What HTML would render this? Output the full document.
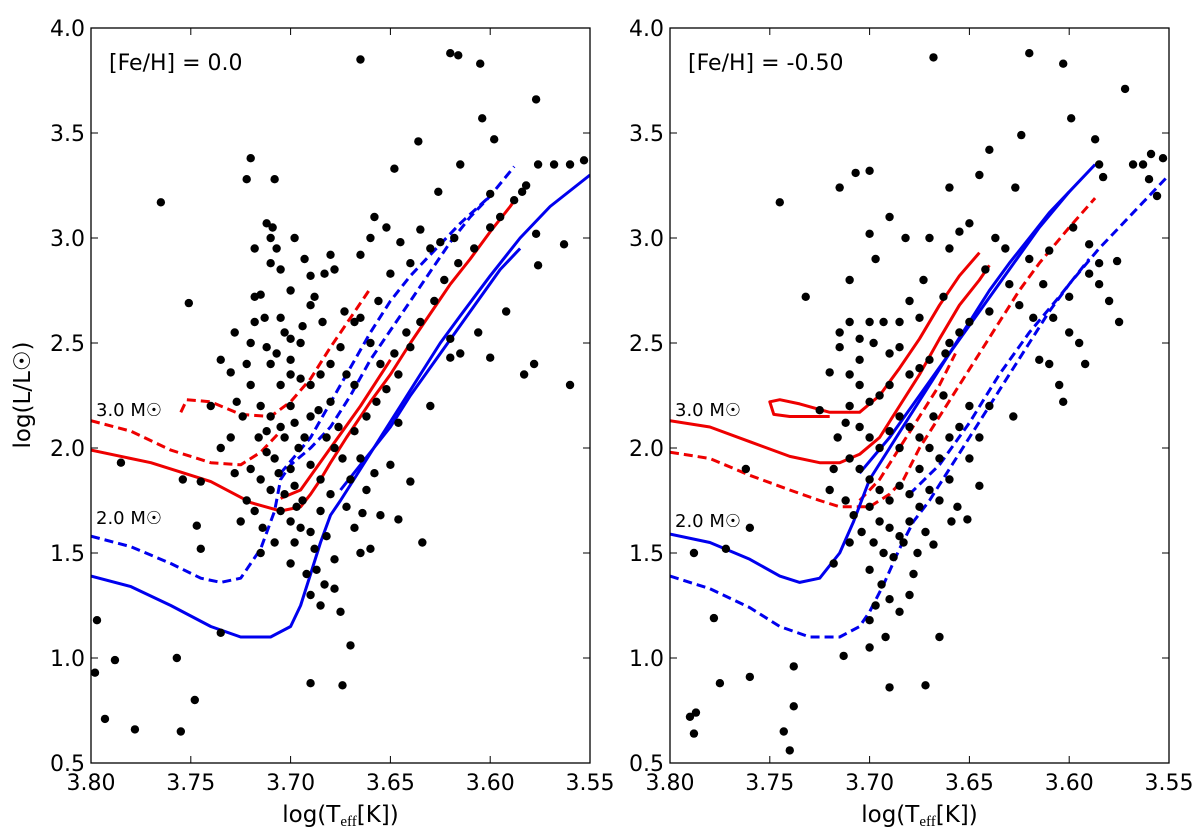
<!DOCTYPE html>
<html><head><meta charset="utf-8"><style>
body{margin:0;background:#fff}
svg text{font-family:"DejaVu Sans","Liberation Sans",sans-serif;fill:#000}
</style></head><body>
<svg id="chart" width="1200" height="835" xmlns="http://www.w3.org/2000/svg"></svg>
<script>
const xTicks=[3.80,3.75,3.70,3.65,3.60,3.55];
const yTicks=[0.5,1.0,1.5,2.0,2.5,3.0,3.5,4.0];
const starsLeftT=[3.665,3.620,3.616,3.605,3.577,3.604,3.636,3.598,3.568,3.560,3.553,3.576,3.615,3.648,3.626,3.600,3.584,3.577,3.563,3.576,3.592,3.606,3.615,3.578,3.583,3.600,3.620,3.560,3.765,3.751,3.722,3.720,3.708,3.712,3.709,3.707,3.710,3.718,3.718,3.730,3.740,3.745,3.754,3.785,3.797,3.788,3.798,3.793,3.778,3.755,3.748,3.757,3.735,3.745,3.747,3.690,3.674,3.675,3.670,3.665,3.660,3.655,3.664,3.646,3.640,3.634,3.646,3.630,3.640,3.620,3.655,3.648,3.660,3.665,3.668,3.673,3.656,3.650,3.640,3.630,3.625,3.618,3.635,3.660,3.678,3.683,3.690,3.688,3.694,3.695,3.700,3.703,3.705,3.713,3.718,3.712,3.720,3.700,3.710,3.705,3.695,3.690,3.685,3.680,3.675,3.672,3.668,3.720,3.715,3.710,3.705,3.700,3.698,3.693,3.690,3.686,3.680,3.676,3.716,3.712,3.708,3.720,3.715,3.710,3.703,3.698,3.694,3.690,3.685,3.680,3.705,3.700,3.695,3.690,3.685,3.698,3.688,3.682,3.700,3.692,3.687,3.678,3.683,3.690,3.685,3.678,3.722,3.725,3.728,3.730,3.724,3.735,3.696,3.703,3.712,3.682,3.678,3.674,3.670,3.662,3.658,3.650,3.668,3.662,3.657,3.652,3.646,3.642,3.635,3.628,3.623,3.616,3.608,3.600,3.595,3.588,3.582,3.690,3.684,3.700,3.693,3.705,3.715,3.728,3.735,3.710,3.698,3.680,3.658,3.665,3.652,3.645,3.700,3.706,3.718,3.714,3.697,3.708,3.715,3.672,3.668,3.665,3.700,3.707,3.722,3.727];
const starsLeftL=[3.85,3.88,3.87,3.83,3.66,3.57,3.46,3.47,3.35,3.35,3.37,3.35,3.35,3.33,3.22,3.21,3.22,3.02,2.97,2.87,2.65,2.55,2.45,2.40,2.35,2.43,2.43,2.30,3.17,2.69,3.28,3.38,3.28,3.07,3.05,2.95,2.88,2.95,2.72,2.36,2.20,1.84,1.85,1.93,1.18,0.99,0.93,0.71,0.66,0.65,0.80,1.00,1.12,1.52,1.63,0.88,0.87,1.22,1.06,1.50,1.52,1.68,1.69,1.66,1.84,1.55,2.12,2.20,2.48,2.52,2.40,2.45,2.50,2.62,2.60,2.65,2.70,2.83,2.88,2.95,2.98,3.00,3.04,3.00,2.85,2.83,2.82,2.72,2.58,2.50,2.52,2.55,2.62,2.62,2.60,2.48,2.50,2.42,2.40,2.30,2.33,2.30,2.35,2.40,2.48,2.35,2.30,2.30,2.20,2.15,2.10,2.20,2.12,2.05,2.15,2.18,2.22,2.10,2.05,1.98,1.95,1.90,1.85,1.80,1.78,1.82,1.75,1.92,1.85,1.78,1.70,1.65,1.62,1.60,1.70,1.55,1.52,1.58,1.45,1.40,1.42,1.47,1.35,1.30,1.25,1.33,1.75,1.65,1.88,2.05,2.15,2.00,2.00,2.05,2.08,2.05,2.00,1.95,1.85,1.80,1.88,1.92,2.08,2.15,2.22,2.28,2.35,2.55,2.60,2.70,2.80,2.88,2.95,3.05,3.10,3.18,3.25,2.68,2.60,2.75,2.90,2.85,2.73,2.55,2.42,3.00,3.00,2.92,3.10,2.92,3.05,2.98,1.90,1.88,1.70,1.62,1.72,1.55,1.50,1.72,1.62,1.95,2.35,2.45,2.40,2.22];
const starsRightT=[3.668,3.620,3.603,3.572,3.599,3.587,3.559,3.553,3.563,3.568,3.624,3.640,3.645,3.660,3.627,3.585,3.583,3.560,3.556,3.707,3.715,3.700,3.690,3.700,3.682,3.670,3.660,3.655,3.650,3.745,3.732,3.715,3.710,3.697,3.693,3.710,3.715,3.720,3.725,3.760,3.762,3.772,3.788,3.778,3.787,3.790,3.788,3.775,3.760,3.743,3.738,3.740,3.738,3.718,3.713,3.700,3.700,3.690,3.672,3.665,3.680,3.676,3.668,3.659,3.651,3.656,3.645,3.640,3.628,3.615,3.605,3.600,3.595,3.608,3.613,3.575,3.576,3.590,3.585,3.590,3.598,3.610,3.620,3.632,3.637,3.640,3.650,3.655,3.660,3.662,3.670,3.675,3.680,3.690,3.695,3.700,3.705,3.710,3.705,3.698,3.690,3.685,3.700,3.712,3.705,3.700,3.695,3.690,3.685,3.680,3.675,3.670,3.665,3.660,3.655,3.650,3.710,3.705,3.700,3.695,3.690,3.685,3.680,3.675,3.670,3.700,3.695,3.690,3.685,3.680,3.704,3.698,3.693,3.688,3.683,3.700,3.694,3.690,3.685,3.692,3.697,3.678,3.672,3.665,3.660,3.650,3.645,3.710,3.716,3.718,3.720,3.712,3.708,3.710,3.675,3.668,3.663,3.685,3.705,3.685,3.680,3.675,3.663,3.673,3.642,3.630,3.625,3.618,3.585,3.580,3.600,3.592,3.603,3.610];
const starsRightL=[3.86,3.88,3.83,3.71,3.57,3.47,3.40,3.38,3.35,3.35,3.49,3.42,3.30,3.24,3.24,3.35,3.29,3.28,3.20,3.31,3.24,3.32,3.10,3.02,3.00,3.00,2.95,3.03,3.07,3.17,2.72,2.55,2.80,2.90,2.60,2.60,2.48,2.36,2.18,1.62,1.90,1.52,1.50,1.19,0.74,0.72,0.64,0.88,0.91,0.65,0.77,0.56,0.96,1.45,1.01,1.18,1.05,0.86,0.87,1.10,1.30,1.50,1.54,1.65,1.66,1.72,1.82,2.20,2.15,2.42,2.30,2.55,2.50,2.62,2.78,2.60,2.89,2.83,2.88,2.97,3.05,2.94,2.90,2.95,3.00,2.65,2.60,2.55,2.50,2.45,2.42,2.38,2.35,2.30,2.25,2.22,2.30,2.35,2.42,2.50,2.45,2.48,2.60,2.12,2.10,2.05,2.00,2.08,2.15,2.10,2.05,2.00,1.95,2.05,2.10,2.20,1.95,1.90,1.85,1.80,1.75,1.82,1.78,1.72,1.80,1.72,1.65,1.62,1.58,1.65,1.60,1.55,1.50,1.48,1.55,1.42,1.35,1.28,1.22,1.10,1.25,1.40,1.60,1.75,1.85,1.95,2.05,2.20,2.05,1.90,1.80,1.75,1.68,1.55,1.90,2.15,2.25,2.00,2.52,2.60,2.70,2.62,2.72,2.80,2.85,2.78,2.68,2.62,2.78,2.70,2.72,2.40,2.22,2.40];
// tracks: [T...],[L...]
const lRedSolidT=[3.80,3.77,3.74,3.72,3.705,3.695,3.690,3.685,3.680,3.672,3.660,3.650,3.640,3.630,3.620,3.610,3.600,3.590,3.587];
const lRedSolidL=[1.99,1.93,1.84,1.74,1.70,1.72,1.78,1.85,1.93,2.05,2.22,2.35,2.50,2.64,2.78,2.90,3.03,3.15,3.19];
const lRedSolid2T=[3.705,3.695,3.680,3.665,3.650];
const lRedSolid2L=[1.76,1.80,2.00,2.20,2.42];
const lRedDashT=[3.80,3.78,3.76,3.74,3.725,3.715,3.705];
const lRedDashL=[2.13,2.08,1.99,1.93,1.92,1.98,2.08];
const lRedDash2T=[3.755,3.752,3.74,3.725,3.71,3.70,3.69,3.68,3.67,3.66];
const lRedDash2L=[2.17,2.23,2.22,2.16,2.15,2.22,2.33,2.48,2.62,2.76];
const lBlueDashT=[3.80,3.78,3.76,3.745,3.735,3.725,3.715,3.708,3.705,3.70,3.69,3.68,3.67,3.66,3.65,3.64,3.63,3.62,3.61,3.60,3.588];
const lBlueDashL=[1.58,1.53,1.45,1.38,1.36,1.38,1.52,1.70,1.85,1.92,2.00,2.10,2.25,2.42,2.56,2.70,2.84,2.98,3.10,3.20,3.34];
const lBlueDash2T=[3.705,3.69,3.675,3.66,3.65,3.64,3.63,3.615,3.60];
const lBlueDash2L=[1.88,2.05,2.30,2.55,2.70,2.82,2.92,3.07,3.20];
const lBlueSolidT=[3.80,3.78,3.76,3.74,3.725,3.71,3.70,3.695,3.69,3.685,3.68,3.675,3.665,3.655,3.645,3.635,3.625,3.615,3.60,3.585,3.57,3.55];
const lBlueSolidL=[1.39,1.34,1.25,1.15,1.10,1.10,1.15,1.25,1.40,1.55,1.68,1.75,1.90,2.05,2.20,2.35,2.50,2.63,2.82,3.00,3.15,3.30];
const lBlueSolid2T=[3.675,3.665,3.65,3.64,3.625,3.61,3.595,3.585];
const lBlueSolid2L=[1.80,1.92,2.10,2.25,2.45,2.65,2.85,2.95];
const rRedSolidT=[3.80,3.78,3.76,3.74,3.725,3.715,3.705,3.695,3.685,3.675,3.665,3.655,3.645,3.640];
const rRedSolidL=[2.13,2.10,2.03,1.96,1.93,1.93,1.97,2.05,2.20,2.35,2.52,2.68,2.80,2.87];
const rRedSolid2T=[3.72,3.74,3.748,3.75,3.745,3.735,3.72,3.705,3.695,3.685,3.675,3.665,3.655,3.645];
const rRedSolid2L=[2.15,2.15,2.16,2.22,2.23,2.21,2.17,2.17,2.25,2.38,2.52,2.68,2.82,2.93];
const rRedDashT=[3.80,3.78,3.76,3.74,3.725,3.715,3.70,3.69,3.683,3.675,3.665,3.655,3.645,3.635,3.625,3.615,3.60,3.587];
const rRedDashL=[1.98,1.95,1.87,1.80,1.75,1.72,1.72,1.78,1.85,2.00,2.15,2.30,2.45,2.60,2.75,2.88,3.05,3.19];
const rRedDash2T=[3.705,3.695,3.685,3.675,3.665,3.657];
const rRedDash2L=[1.75,1.85,2.00,2.15,2.30,2.45];
const rBlueSolidT=[3.80,3.78,3.76,3.745,3.735,3.725,3.715,3.708,3.70,3.69,3.68,3.67,3.66,3.65,3.64,3.63,3.62,3.61,3.60,3.587];
const rBlueSolidL=[1.59,1.55,1.47,1.39,1.36,1.38,1.50,1.65,1.85,2.00,2.15,2.30,2.45,2.60,2.75,2.88,3.00,3.12,3.22,3.35];
const rBlueSolid2T=[3.705,3.69,3.675,3.66,3.645,3.63,3.615,3.60];
const rBlueSolid2L=[1.88,2.05,2.25,2.45,2.65,2.85,3.05,3.22];
const rBlueDashT=[3.80,3.78,3.76,3.745,3.73,3.715,3.705,3.70,3.693,3.685,3.678,3.67,3.66,3.65,3.64,3.63,3.62,3.61,3.60,3.585,3.57,3.55];
const rBlueDashL=[1.39,1.33,1.24,1.15,1.10,1.10,1.15,1.22,1.35,1.52,1.65,1.75,1.90,2.05,2.20,2.35,2.50,2.65,2.78,2.95,3.10,3.30];
const rBlueDash2T=[3.68,3.665,3.65,3.635,3.62,3.605,3.59];
const rBlueDash2L=[1.78,1.92,2.12,2.35,2.55,2.72,2.90];

const NS="http://www.w3.org/2000/svg";
const svg=document.getElementById('chart');
const Y0=28,Y1=763;
function mk(tag,attrs,parent){const e=document.createElementNS(NS,tag);for(const k in attrs)e.setAttribute(k,attrs[k]);(parent||svg).appendChild(e);return e;}
function panel(x0,label,name,stars,tracks,labels){
  const x1=x0+499;
  const X=t=>x0+(3.80-t)/0.25*(x1-x0);
  const Yf=l=>Y1-(l-0.5)/3.5*(Y1-Y0);
  const g=mk('g',{});
  
  
  const clip=mk('clipPath',{id:'c'+x0},g);mk('rect',{x:x0,y:Y0,width:x1-x0,height:Y1-Y0},clip);
  const pg=mk('g',{'clip-path':'url(#c'+x0+')'},g);
  for(const tr of tracks){
    const d=tr.t.map((t,i)=>(i?'L':'M')+X(t).toFixed(1)+','+Yf(tr.l[i]).toFixed(1)).join('');
    const p=mk('path',{d:d,fill:'none',stroke:tr.c,'stroke-width':3,'stroke-dasharray':tr.dash?'9,5':'none','stroke-linejoin':'round'},pg);
    
    
  }
  stars[0].forEach((t,i)=>{
    const c=mk('circle',{cx:X(t),cy:Yf(stars[1][i]),r:4.2,fill:'#000'},pg);
    
    
  });
  mk('rect',{x:x0,y:Y0,width:x1-x0,height:Y1-Y0,fill:'none',stroke:'#000','stroke-width':1.3},g);
  xTicks.forEach(t=>{const x=X(t);mk('line',{x1:x,x2:x,y1:Y1,y2:Y1-7,stroke:'#000'},g);mk('line',{x1:x,x2:x,y1:Y0,y2:Y0+7,stroke:'#000'},g);
    const tx=mk('text',{x:x,y:Y1+27,'text-anchor':'middle','font-size':22},g);tx.textContent=t.toFixed(2);
    
    });
  yTicks.forEach(l=>{const y=Yf(l);mk('line',{x1:x0,x2:x0+7,y1:y,y2:y,stroke:'#000'},g);mk('line',{x1:x1,x2:x1-7,y1:y,y2:y,stroke:'#000'},g);
    const tx=mk('text',{x:x0-6,y:y+8,'text-anchor':'end','font-size':22},g);tx.textContent=l.toFixed(1);
    
    });
  const ti=mk('text',{x:x0+18,y:70,'font-size':22},g);ti.textContent=label;
  
  
  labels.forEach(lb=>{const m=mk('text',{x:x0+5,y:lb[1],'font-size':18},g);m.textContent=lb[0];
    
    });
  const xl=mk('text',{x:(x0+x1)/2,y:822,'text-anchor':'middle','font-size':23},g);
  
  
  xl.innerHTML='log(T<tspan font-size="15" dy="4" font-family="Liberation Serif">eff</tspan><tspan dy="-4">[K])</tspan>';
}
panel(91,'[Fe/H] = 0.0','left-panel',[starsLeftT,starsLeftL],[
 {t:lRedSolidT,l:lRedSolidL,c:'#e00',n:'track-3msun-solid'},{t:lRedSolid2T,l:lRedSolid2L,c:'#e00',n:'track-3msun-solid-loop'},
 {t:lRedDashT,l:lRedDashL,c:'#e00',dash:1,n:'track-3msun-dashed'},{t:lRedDash2T,l:lRedDash2L,c:'#e00',dash:1,n:'track-3msun-dashed-loop'},
 {t:lBlueDashT,l:lBlueDashL,c:'#00e',dash:1,n:'track-2msun-dashed'},{t:lBlueDash2T,l:lBlueDash2L,c:'#00e',dash:1,n:'track-2msun-dashed-branch'},
 {t:lBlueSolidT,l:lBlueSolidL,c:'#00e',n:'track-2msun-solid'},{t:lBlueSolid2T,l:lBlueSolid2L,c:'#00e',n:'track-2msun-solid-branch'}],
 [['3.0 M\u2609',416],['2.0 M\u2609',524]]);
panel(670,'[Fe/H] = -0.50','right-panel',[starsRightT,starsRightL],[
 {t:rRedSolidT,l:rRedSolidL,c:'#e00',n:'track-3msun-solid'},{t:rRedSolid2T,l:rRedSolid2L,c:'#e00',n:'track-3msun-solid-loop'},
 {t:rRedDashT,l:rRedDashL,c:'#e00',dash:1,n:'track-3msun-dashed'},{t:rRedDash2T,l:rRedDash2L,c:'#e00',dash:1,n:'track-3msun-dashed-loop'},
 {t:rBlueSolidT,l:rBlueSolidL,c:'#00e',n:'track-2msun-solid'},{t:rBlueSolid2T,l:rBlueSolid2L,c:'#00e',n:'track-2msun-solid-branch'},
 {t:rBlueDashT,l:rBlueDashL,c:'#00e',dash:1,n:'track-2msun-dashed'},{t:rBlueDash2T,l:rBlueDash2L,c:'#00e',dash:1,n:'track-2msun-dashed-branch'}],
 [['3.0 M\u2609',416],['2.0 M\u2609',527]]);
const yl=mk('text',{x:30,y:395,'text-anchor':'middle','font-size':23,transform:'rotate(-90 30 395)'});
yl.textContent='log(L/L\u2609)';


</script>
</body></html>
